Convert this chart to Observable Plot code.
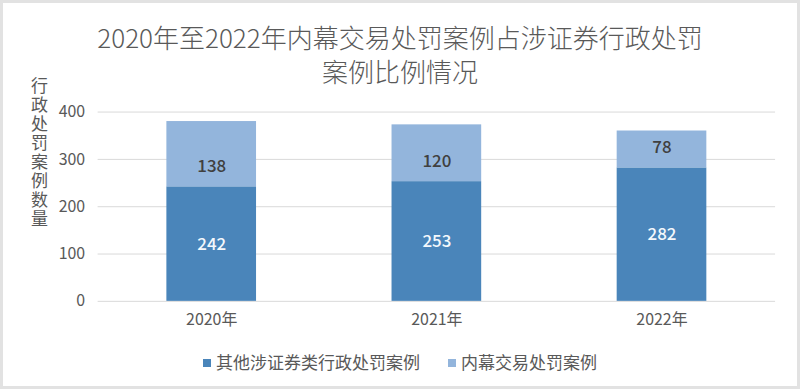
<!DOCTYPE html>
<html>
<head>
<meta charset="utf-8">
<script src="https://cdn.jsdelivr.net/npm/d3@7"></script>
<script src="https://cdn.jsdelivr.net/npm/@observablehq/plot@0.6"></script>
<style>
  html, body { margin: 0; padding: 0; background: #fff; }
  #wrap { position: relative; width: 800px; height: 389px; box-sizing: border-box;
          border: 3px solid #e2e2e2; overflow: hidden; font-family: "Noto Sans CJK SC", sans-serif; }
  #chart { position: absolute; left: -3px; top: -3px; }
  .title { position: absolute; left: 0; width: 794px; text-align: center; color: #595959;
           font-size: 26px; line-height: 34px; font-weight: 300; }
  #ylabel { position: absolute; left: 24px; top: 74px; color: #595959; font-size: 17px;
            line-height: 24px; writing-mode: vertical-rl; text-orientation: upright; letter-spacing: 2px; }
  #legend { position: absolute; left: 0; width: 794px; top: 347px; text-align: center; color: #595959;
            font-size: 17px; line-height: 24px; }
  .sw { display: inline-block; width: 8px; height: 8px; margin-right: 5px; vertical-align: 2px; }
  .item { display: inline-block; margin: 0 14px; }
</style>
</head>
<body>
<div id="wrap">
  <div class="title" id="t1" style="top:17px"></div>
  <div class="title" id="t2" style="top:51px"></div>
  <div id="ylabel"></div>
  <div id="chart"></div>
  <div id="legend"></div>
</div>
<script>
const titleLines = ["2020年至2022年内幕交易处罚案例占涉证券行政处罚", "案例比例情况"];
const yLabel = "行政处罚案例数量";
const years = ["2020年", "2021年", "2022年"];
const seriesNames = ["其他涉证券类行政处罚案例", "内幕交易处罚案例"];
const otherCases = [242, 253, 282];
const insiderCases = [138, 120, 78];
const yTicks = [0, 100, 200, 300, 400];
const colors = ["#4a85ba", "#93b5dc"];

document.getElementById("t1").textContent = titleLines[0];
document.getElementById("t2").textContent = titleLines[1];
document.getElementById("ylabel").textContent = yLabel;
document.getElementById("legend").innerHTML = seriesNames.map((n, i) =>
  `<span class="item"><span class="sw" style="background:${colors[i]}"></span>${n}</span>`).join("");

const data = [];
years.forEach((y, i) => {
  data.push({year: y, series: seriesNames[0], value: otherCases[i], base: 0});
  data.push({year: y, series: seriesNames[1], value: insiderCases[i], base: otherCases[i]});
});
const darkData = data.filter(d => d.series === seriesNames[0]);
const lightData = data.filter(d => d.series === seriesNames[1]);

const chart = Plot.plot({
  width: 800,
  height: 389,
  marginLeft: 98,
  marginRight: 22,
  marginTop: 112,
  marginBottom: 87,
  style: {fontFamily: "'Noto Sans CJK SC', sans-serif", fontSize: "16px", color: "#595959", background: "transparent"},
  x: {domain: years, paddingInner: 0.6, paddingOuter: 0.3, label: null, tickSize: 0, tickPadding: 12},
  y: {domain: [0, 400], ticks: yTicks, label: null, tickSize: 0, tickPadding: 13},
  color: {domain: seriesNames, range: colors},
  marks: [
    Plot.gridY(yTicks, {stroke: "#d9d9d9", strokeOpacity: 1, strokeWidth: 1}),
    Plot.barY(data, Plot.stackY({x: "year", y: "value", fill: "series", order: seriesNames})),
    Plot.text(darkData, {x: "year", y: d => d.value / 2, text: d => String(d.value),
      fill: "#f4f8fc", fontSize: 17, fontWeight: 500}),
    Plot.text(lightData, {x: "year", y: "base", dy: -20, text: d => String(d.value),
      fill: "#404040", fontSize: 17, fontWeight: 500}),
    Plot.axisX({tickSize: 0, tickPadding: 12, fontSize: 16, fill: "#595959"}),
    Plot.axisY({ticks: yTicks, tickSize: 0, tickPadding: 13, fontSize: 16, fill: "#595959"})
  ]
});
document.getElementById("chart").appendChild(chart);
</script>
</body>
</html>
